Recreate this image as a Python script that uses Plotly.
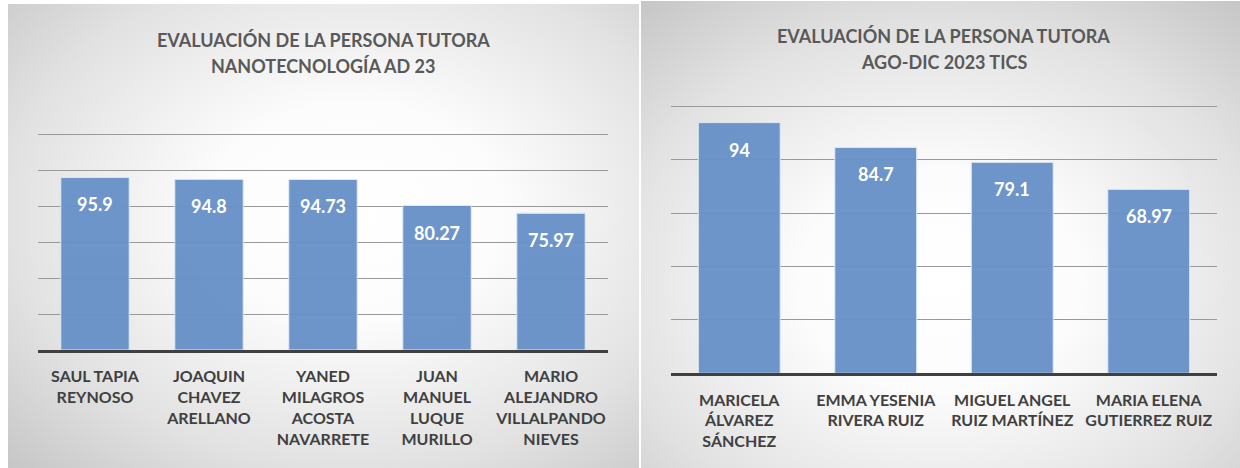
import base64
import plotly.graph_objects as go

# ---------------- data ----------------
left_title = ["EVALUACIÓN DE LA PERSONA TUTORA", "NANOTECNOLOGÍA AD 23"]
left_names = ["SAUL TAPIA REYNOSO", "JOAQUIN CHAVEZ ARELLANO",
              "YANED MILAGROS ACOSTA NAVARRETE", "JUAN MANUEL LUQUE MURILLO",
              "MARIO ALEJANDRO VILLALPANDO NIEVES"]
left_ticks = ["SAUL TAPIA<br>REYNOSO", "JOAQUIN<br>CHAVEZ<br>ARELLANO",
              "YANED<br>MILAGROS<br>ACOSTA<br>NAVARRETE",
              "JUAN<br>MANUEL<br>LUQUE<br>MURILLO",
              "MARIO<br>ALEJANDRO<br>VILLALPANDO<br>NIEVES"]
left_values = [95.9, 94.8, 94.73, 80.27, 75.97]

right_title = ["EVALUACIÓN DE LA PERSONA TUTORA", "AGO-DIC 2023 TICS"]
right_names = ["MARICELA ÁLVAREZ SÁNCHEZ", "EMMA YESENIA RIVERA RUIZ",
               "MIGUEL ANGEL RUIZ MARTÍNEZ", "MARIA ELENA GUTIERREZ RUIZ"]
right_ticks = ["MARICELA<br>ÁLVAREZ<br>SÁNCHEZ", "EMMA YESENIA<br>RIVERA RUIZ",
               "MIGUEL ANGEL<br>RUIZ MARTÍNEZ", "MARIA ELENA<br>GUTIERREZ RUIZ"]
right_values = [94, 84.7, 79.1, 68.97]

# ---------------- styling ----------------
W, H = 1240, 468
FONT = "Lato"
BAR = "#6891c8"
TITLE_C = "#595959"
TICK_C = "#404040"


def px(x):
    return x / W


def py(y):
    return 1 - y / H


def grad_svg(cx, cy):
    svg = (
        '<svg xmlns="http://www.w3.org/2000/svg" width="600" height="460" '
        'preserveAspectRatio="none" viewBox="0 0 600 460">'
        '<defs><radialGradient id="g" cx="%s" cy="%s" r="0.78">'
        '<stop offset="0" stop-color="#ffffff"/>'
        '<stop offset="0.3" stop-color="#fcfcfc"/>'
        '<stop offset="0.7" stop-color="#e2e2e2"/>'
        '<stop offset="1" stop-color="#c6c6c6"/>'
        '</radialGradient></defs>'
        '<rect width="600" height="460" fill="url(#g)"/></svg>' % (cx, cy)
    )
    return "data:image/svg+xml;base64," + base64.b64encode(svg.encode()).decode()


fig = go.Figure()

fig.add_trace(go.Bar(x=left_ticks, y=left_values, marker_color=BAR, opacity=0.96,
                     marker_line_color="#dfe8f4", marker_line_width=1,
                     xaxis="x", yaxis="y", hoverinfo="skip", showlegend=False))
fig.add_trace(go.Bar(x=right_ticks, y=right_values, marker_color=BAR, opacity=0.96,
                     marker_line_color="#dfe8f4", marker_line_width=1,
                     xaxis="x2", yaxis="y2", hoverinfo="skip", showlegend=False))

label_font = dict(family=FONT, size=18, color="white", weight="bold")
annotations = []
for cat, v in zip(left_ticks, left_values):
    annotations.append(dict(x=cat, y=v, xref="x", yref="y", text=f"{v:g}",
                            showarrow=False, yanchor="middle", yshift=-27,
                            font=label_font))
for cat, v in zip(right_ticks, right_values):
    annotations.append(dict(x=cat, y=v, xref="x2", yref="y2", text=f"{v:g}",
                            showarrow=False, yanchor="middle", yshift=-27,
                            font=label_font))

title_font = dict(family=FONT, size=18, color=TITLE_C, weight="bold")
for i, line in enumerate(left_title):
    annotations.append(dict(x=px(323), y=py(40 + 26 * i), xref="paper", yref="paper",
                            text=line, showarrow=False, xanchor="center", yanchor="middle",
                            font=title_font))
for i, line in enumerate(right_title):
    annotations.append(dict(x=px(944), y=py(36 + 26 * i), xref="paper", yref="paper",
                            text=line, showarrow=False, xanchor="center", yanchor="middle",
                            font=title_font))

tickfont = dict(family=FONT, size=16, color=TICK_C, weight="bold")
xcommon = dict(type="category", showgrid=False, showline=True, linecolor="#404040",
               linewidth=3, ticks="", tickfont=tickfont, fixedrange=True,
               ticklabelstandoff=10)
ycommon = dict(showticklabels=False, showgrid=True, gridcolor="#9a9a9a", gridwidth=1.3,
               zeroline=False, showline=False, dtick=20, ticks="", fixedrange=True)

fig.update_layout(
    width=W, height=H,
    margin=dict(l=0, r=0, t=0, b=0),
    paper_bgcolor="white", plot_bgcolor="rgba(0,0,0,0)",
    bargap=0.4,
    xaxis=dict(domain=[px(38), px(608)], anchor="y", **xcommon),
    yaxis=dict(domain=[py(350), py(350 - 122 * 1.8)], range=[0, 122], anchor="x", **ycommon),
    xaxis2=dict(domain=[px(671), px(1217)], anchor="y2", **xcommon),
    yaxis2=dict(domain=[py(373.3), py(373.3 - 102 * 2.667)], range=[0, 102], anchor="x2",
                **ycommon),
    annotations=annotations,
    images=[
        dict(source=grad_svg(0.55, 0.45), xref="paper", yref="paper",
             x=px(8), y=py(4), sizex=px(639 - 8), sizey=(468 - 4) / H,
             xanchor="left", yanchor="top", sizing="stretch", layer="below"),
        dict(source=grad_svg(0.5, 0.6), xref="paper", yref="paper",
             x=px(641), y=py(1), sizex=px(1240 - 641), sizey=(468 - 1) / H,
             xanchor="left", yanchor="top", sizing="stretch", layer="below"),
    ],
)

fig.write_html("out.html",
               config={"displayModeBar": False},
               post_script="document.body.style.margin='0';"
                           "document.documentElement.style.overflow='hidden';")
